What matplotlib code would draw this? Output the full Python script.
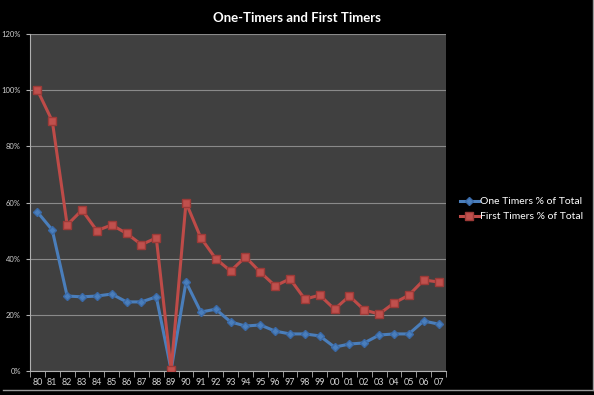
import numpy as np
import matplotlib.pyplot as plt
from matplotlib.ticker import PercentFormatter
from matplotlib.lines import Line2D

plt.rcParams['font.family'] = ['Lato', 'DejaVu Sans']

years = ['80', '81', '82', '83', '84', '85', '86', '87', '88', '89', '90', '91', '92', '93',
         '94', '95', '96', '97', '98', '99', '00', '01', '02', '03', '04', '05', '06', '07']
one_timers = [56.6, 50.2, 26.7, 26.4, 26.7, 27.4, 24.6, 24.6, 26.4, 0.4, 31.7, 21.0, 22.0, 17.5,
              16.0, 16.4, 14.2, 13.2, 13.2, 12.5, 8.5, 9.6, 10.0, 12.8, 13.2, 13.2, 17.8, 16.7]
first_timers = [100.0, 89.0, 52.0, 57.3, 50.0, 52.0, 49.0, 45.0, 47.4, 0.5, 60.0, 47.4, 40.0, 35.6,
                40.6, 35.2, 30.3, 32.8, 25.6, 27.0, 22.0, 26.7, 21.7, 20.3, 24.2, 27.0, 32.4, 31.7]

fig = plt.figure(figsize=(5.94, 3.95), dpi=100, facecolor='black')
ax = fig.add_axes([30/594, 24/395, 416/594, 337/395])
ax.set_facecolor('#404040')

x = np.arange(len(years))
ax.plot(x, one_timers, color='#4a7ebb', lw=2.2, marker='D', ms=4,
        mfc='#4a7ebb', mec='#3a6aa8', label='One Timers % of Total', zorder=3)
ax.plot(x, first_timers, color='#be4b48', lw=2.2, marker='s', ms=5.2,
        mfc='#c0504d', mec='#9c3a37', label='First Timers % of Total', zorder=3)

ax.set_xlim(-0.5, len(years) - 0.5)
ax.set_ylim(0, 120)
ax.set_yticks(np.arange(0, 121, 20))
ax.yaxis.set_major_formatter(PercentFormatter(decimals=0))
ax.set_xticks(x)
ax.set_xticklabels(years)
ax.set_xticks(np.arange(-0.5, len(years), 1), minor=True)
ax.tick_params(axis='x', which='major', length=0, colors='#d0d0d0', labelsize=6.5, pad=5)
ax.tick_params(axis='x', which='minor', length=4, color='#b0b0b0')
ax.tick_params(axis='y', length=3, color='#b0b0b0', colors='#d0d0d0', labelsize=5.5)
ax.grid(axis='y', color='#8a8a8a', lw=0.8)
ax.set_axisbelow(True)
for side in ['top', 'right']:
    ax.spines[side].set_visible(False)
for side in ['left', 'bottom']:
    ax.spines[side].set_color('#b0b0b0')

fig.suptitle('One-Timers and First Timers', color='white', fontsize=9.5, fontweight='bold', y=0.97)

leg = ax.legend(loc='center left', bbox_to_anchor=(1.02, 0.48), frameon=False,
                labelcolor='white', fontsize=7.5, handlelength=1.9, handletextpad=0.1,
                labelspacing=0.55, borderpad=0)

# thin light border at the right and bottom edges, as in the original
fig.add_artist(Line2D([0.9975, 0.9975], [5/395, 1], transform=fig.transFigure, color='#9a9a9a', lw=1))
fig.add_artist(Line2D([0.005, 0.9975], [5/395, 5/395], transform=fig.transFigure, color='#9a9a9a', lw=1))

fig.savefig('out.png', dpi=100, facecolor='black')
